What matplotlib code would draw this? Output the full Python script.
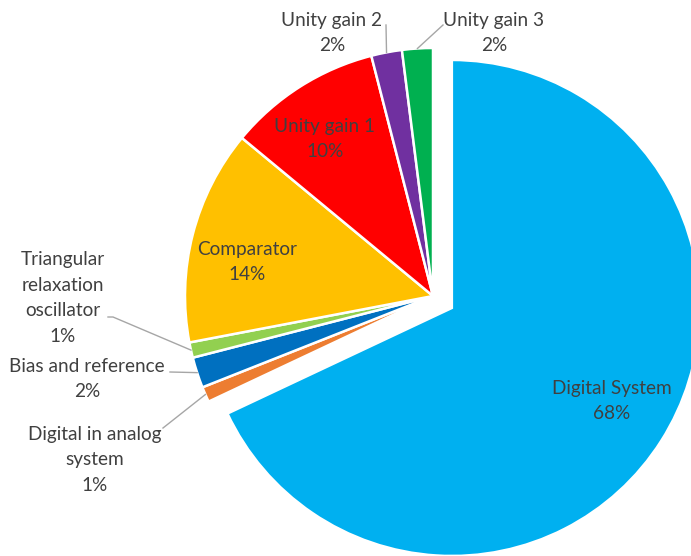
import numpy as np
import matplotlib
matplotlib.use("Agg")
import matplotlib.pyplot as plt

categories = ["Digital System", "Digital in analog\nsystem", "Bias and reference",
              "Triangular\nrelaxation\noscillator", "Comparator", "Unity gain 1",
              "Unity gain 2", "Unity gain 3"]
shares = [68, 1, 2, 1, 14, 10, 2, 2]
colors = ["#00B0F0", "#ED7D31", "#0070C0", "#92D050", "#FFC000", "#FF0000",
          "#7030A0", "#00B050"]
explode_frac = [0.09, 0, 0, 0, 0, 0, 0, 0]

W, H = 691, 556
fig = plt.figure(figsize=(W / 100, H / 100), dpi=100)
ax = fig.add_axes([0, 0, 1, 1])

cx, cy, R = 433, 260, 248
wedges, _ = ax.pie(shares, colors=colors, explode=[e * R for e in explode_frac],
                   startangle=90, counterclock=False, center=(cx, cy), radius=R,
                   wedgeprops=dict(edgecolor="white", linewidth=1.8))
ax.set_xlim(0, W)
ax.set_ylim(0, H)
ax.set_aspect("equal")
ax.axis("off")

font = dict(family=["Lato", "DejaVu Sans"], fontsize=13.7, color="#404040",
            ha="center", va="center", linespacing=1.62)

def pct(v):
    return f"{v:.0f}%"

# label anchor (pixels from top-left) and optional leader line start
label_pos = {
    0: (612, 401, None),
    1: (95, 460, (163, 428)),
    2: (87, 379, (170, 372)),
    3: (63, 298, (108, 317)),
    4: (247, 262, None),
    5: (325, 139, None),
    6: (332, 33, (386, 25)),
    7: (494, 33, (443, 25)),
}

for i, w in enumerate(wedges):
    x, y, lead = label_pos[i]
    ax.text(x, H - y, f"{categories[i]}\n{pct(shares[i])}", **font)
    if lead is not None:
        mid = np.deg2rad((w.theta1 + w.theta2) / 2)
        ex = w.center[0] + R * np.cos(mid)
        ey = w.center[1] + R * np.sin(mid)
        lx, ly = lead[0], H - lead[1]
        if i == 3:
            pts_x = [lx, lx + 5, ex]
            pts_y = [ly, ly, ey]
        else:
            pts_x = [lx, ex]
            pts_y = [ly, ey]
        ax.plot(pts_x, pts_y, color="#A6A6A6", linewidth=1)

fig.savefig("out.png", dpi=100)
